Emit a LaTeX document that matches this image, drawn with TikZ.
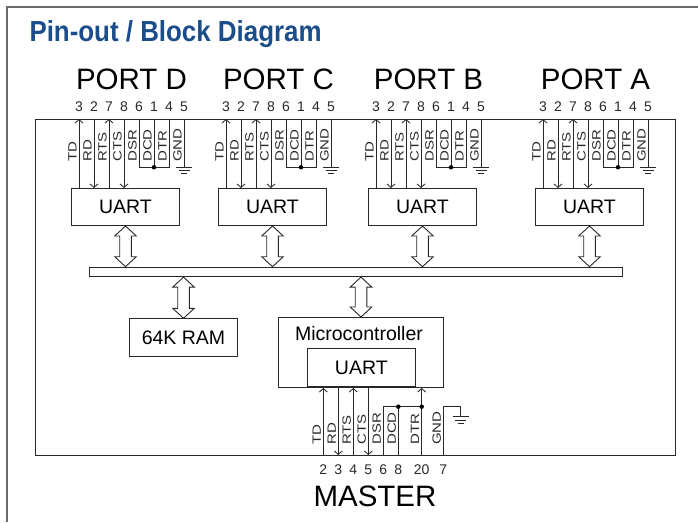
\documentclass[tikz,border=0pt]{standalone}
\usepackage{fontspec}
\setmainfont{Liberation Sans}
\usetikzlibrary{arrows.meta,calc}
\definecolor{titleblue}{RGB}{27,77,139}
\definecolor{framegray}{RGB}{105,105,105}
\definecolor{ink}{RGB}{40,40,40}

\tikzset{
 sig/.style={draw=ink, line width=0.85pt},
 tip/.style={-{Straight Barb[length=3.5pt,width=8pt]}},
 blk/.style={draw=ink, line width=1pt, inner sep=0pt, font=\fontsize{19.5}{20}\selectfont},
 siglabel/.style={rotate=90, anchor=base west, inner sep=0pt, font=\fontsize{12}{12}\selectfont, text=ink},
 pinnum/.style={anchor=base, inner sep=0pt, font=\fontsize{14}{14}\selectfont, text=ink},
 portlabel/.style={anchor=base, inner sep=0pt, font=\fontsize{29.5}{30}\selectfont, text=black},
 bigarrow/.style={draw=ink, line width=0.9pt, fill=white},
 dot/.style={circle, fill=black, inner sep=0pt, minimum size=4.5pt},
}

\newcommand{\hollowarrow}[2]{%
 \draw[bigarrow] let \p1=(#1), \p2=(#2) in
 (\x1,\y1) -- ++(10.8pt,-10pt) -- ++(-5pt,0pt) -- (\x1+5.8pt,\y2+10pt) -- ++(5pt,0pt) -- (\x1,\y2) -- ++(-10.8pt,10pt) -- ++(5pt,0pt) -- (\x1-5.8pt,\y1-10pt) -- ++(-5pt,0pt) -- cycle;}

\newcommand{\groundsym}[1]{%
 \draw[sig] ($(#1)+(-8pt,0)$) -- ($(#1)+(8pt,0)$)
   ($(#1)+(-5.5pt,-3.3pt)$) -- ($(#1)+(5.5pt,-3.3pt)$)
   ($(#1)+(-3pt,-6.6pt)$) -- ($(#1)+(3pt,-6.6pt)$);}

\newcommand{\portgroup}[3]{%
 \node[blk, minimum width=108pt, minimum height=37pt, anchor=north west] (u#1) at (#2-8,-188) {UART};
 \node[portlabel] (pl#1) at (#2+52.5,-89.3) {PORT #3};
 \foreach \n/\lab/\num in {0/TD/3,1/RD/2,2/RTS/7,3/CTS/8,4/DSR/6,5/DCD/1,6/DTR/4,7/GND/5}{
   \coordinate (p#1\n) at (#2+15*\n,-119);
   \coordinate (q#1\n) at (#2+15*\n,-167.3);
   \node[pinnum] (n#1\n) at (#2+15*\n,-111.7) {\num};
   \node[siglabel] (l#1\n) at (#2+15*\n-2.5,-162) {\scalebox{1.25}[1]{\lab}};
 }
 \draw[sig,tip] (p#10 |- u#1.north) -- (p#10);
 \draw[sig,tip] (p#11) -- (p#11 |- u#1.north);
 \draw[sig,tip] (p#12 |- u#1.north) -- (p#12);
 \draw[sig,tip] (p#13) -- (p#13 |- u#1.north);
 \draw[sig] (p#14) -- (q#14) -- (q#16) -- (p#16);
 \draw[sig] (p#15) -- (q#15);
 \node[dot] at (q#15) {};
 \draw[sig] (p#17) -- (q#17);
 \groundsym{q#17}
 \hollowarrow{u#1.south}{u#1.south |- bus.north}
}

\begin{document}
\begin{tikzpicture}[x=1pt,y=1pt]
\useasboundingbox (0,0) rectangle (698,-522);
% outer border (screenshot frame)
\draw[framegray, line width=2pt] (7,-522) -- (7,-7) -- (698,-7);
% title
\node[anchor=base west, inner sep=0pt, text=titleblue, font=\bfseries\fontsize{29}{29}\selectfont] (title) at (29.3,-41.7) {\scalebox{0.893}[1]{Pin-out / Block Diagram}};
% inner frame
\node[draw=ink, line width=1.1pt, minimum width=640pt, minimum height=336pt, anchor=north west, inner sep=0pt] (frame) at (35,-119) {};
% bus
\node[draw=ink, line width=0.9pt, minimum width=533.5pt, minimum height=9.5pt, anchor=north west, inner sep=0pt] (bus) at (88.5,-266.7) {};
% ports
\portgroup{D}{79}{D}
\portgroup{C}{226}{C}
\portgroup{B}{376}{B}
\portgroup{A}{543}{A}
% RAM
\node[blk, minimum width=107.4pt, minimum height=37.7pt, anchor=north west] (ram) at (129.3,-318.3) {64K RAM};
\hollowarrow{ram.north |- bus.south}{ram.north}
% microcontroller
\node[blk, minimum width=165pt, minimum height=70pt, anchor=north west] (mc) at (278,-317) {};
\node[anchor=base, inner sep=0pt, font=\fontsize{19.5}{20}\selectfont] (mct) at (359,-340) {Microcontroller};
\node[blk, minimum width=108.3pt, minimum height=38pt, anchor=south west] (mu) at (306.7,-387) {UART};
\hollowarrow{mc.north |- bus.south}{mc.north}
% master pins
\foreach \n/\xx/\lab/\num in {0/323.3/TD/2,1/338.3/RD/3,2/353.3/RTS/4,3/368.3/CTS/5,4/383.3/DSR/6,5/398.3/DCD/8,6/421.7/DTR/20,7/443.3/GND/7}{
  \coordinate (m\n) at (\xx,-455);
  \coordinate (k\n) at (\xx,-406.7);
  \node[pinnum] (mn\n) at (\xx,-474.3) {\num};
  \node[siglabel] (ml\n) at (\xx-2.5,-445) {\scalebox{1.25}[1]{\lab}};
}
\draw[sig,tip] (m0) -- (m0 |- mc.south);
\draw[sig,tip] (m1 |- mc.south) -- (m1);
\draw[sig,tip] (m2) -- (m2 |- mc.south);
\draw[sig,tip] (m3 |- mc.south) -- (m3);
\draw[sig] (m4) -- (k4) -- (k6);
\draw[sig] (m5) -- (k5);
\draw[sig,tip] (m6) -- (m6 |- mc.south);
\node[dot] at (k5) {};
\node[dot] at (k6) {};
\coordinate (gm) at (460.5,-416.7);
\draw[sig] (m7) -- (k7) -- (k7 -| gm) -- (gm);
\groundsym{gm}
\node[portlabel] (master) at (375,-506.7) {MASTER};
\end{tikzpicture}
\end{document}
